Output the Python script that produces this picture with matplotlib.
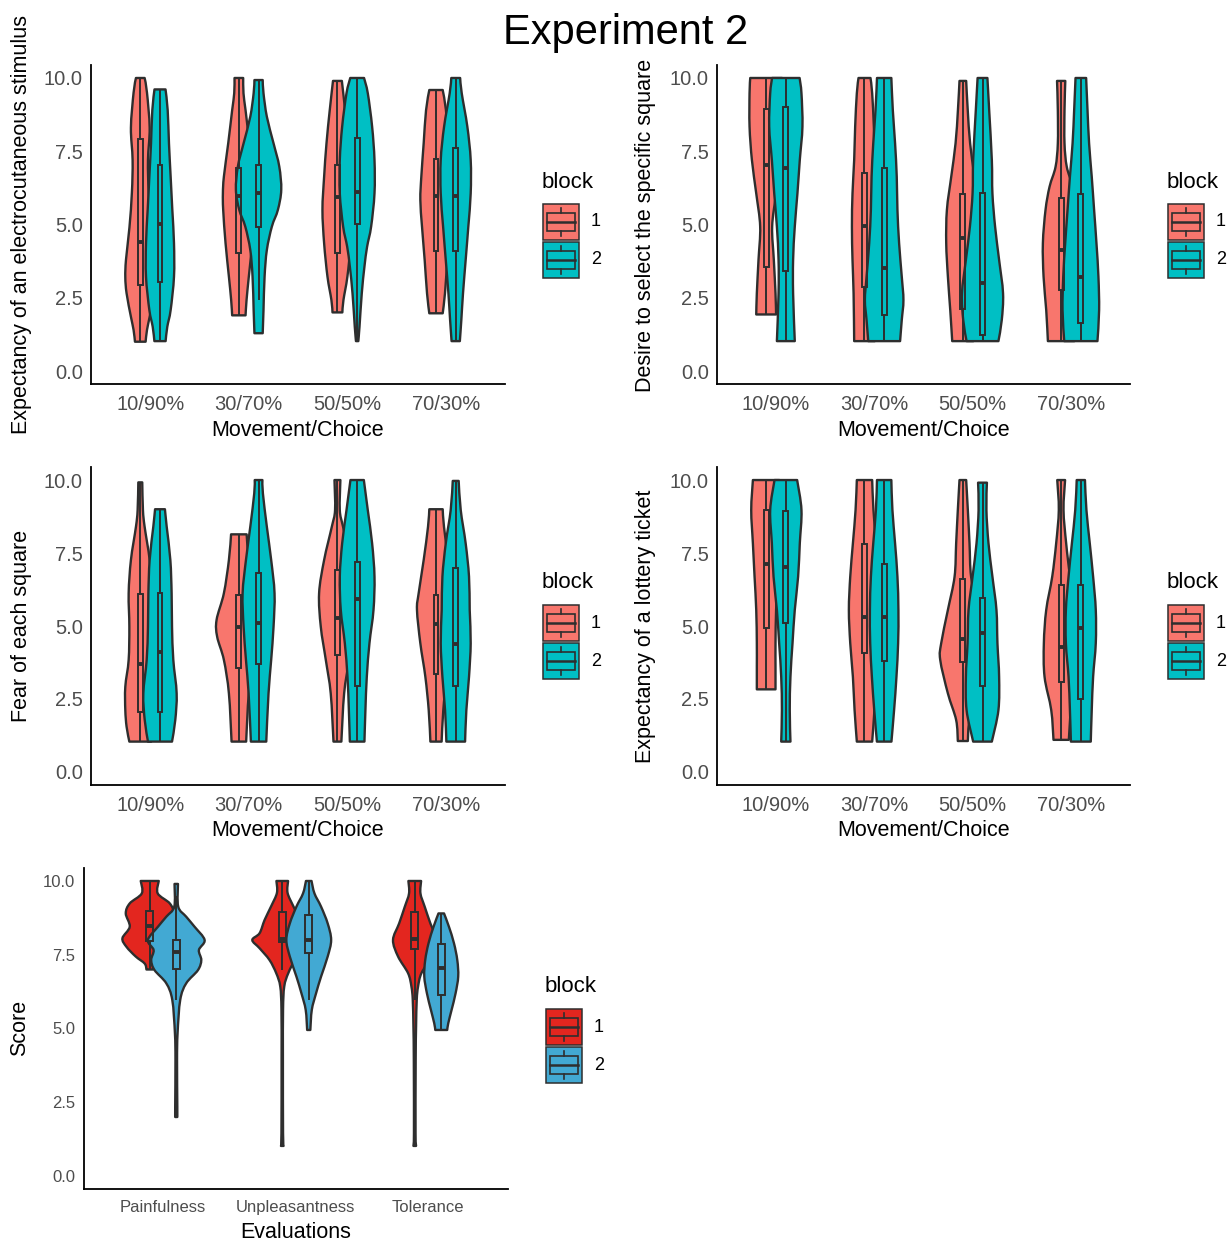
import matplotlib
matplotlib.use("Agg")
import matplotlib.pyplot as plt
from matplotlib.path import Path
from matplotlib.patches import PathPatch, Rectangle
from matplotlib.transforms import Affine2D

plt.rcParams["font.family"] = ["Liberation Sans", "DejaVu Sans"]

W, H = 1232, 1241

CONDITIONS = ["10/90%", "30/70%", "50/50%", "70/30%"]
EVALUATIONS = ["Painfulness", "Unpleasantness", "Tolerance"]
BLOCKS = ["1", "2"]

# violin outlines: (score, half width) from bottom to top, one list per condition
# boxes: (lower whisker, q1, median, q3, upper whisker)
ELEC_B1 = [
    [(1.0, .054), (1.4, .068), (1.85, .095), (2.65, .139), (3.2, .152), (3.8, .145), (4.9, .11),
     (6.1, .085), (7.2, .078), (8.3, .095), (9.5, .068), (10.0, .044)],
    [(1.9, .068), (2.42, .078), (3.22, .101), (4.36, .135), (5.5, .159), (6.06, .162), (6.63, .152),
     (7.77, .108), (8.9, .068), (9.48, .047), (10.0, .044)],
    [(2.0, .05), (2.42, .061), (3.22, .101), (4.36, .135), (5.5, .152), (6.63, .135), (7.77, .111),
     (8.9, .078), (9.9, .045)],
    [(1.97, .068), (2.65, .091), (3.79, .115), (4.93, .142), (5.84, .159), (6.63, .149), (7.77, .125),
     (8.9, .101), (9.59, .068)],
]
ELEC_B2 = [
    [(1.02, .057), (1.51, .074), (2.08, .108), (3.22, .142), (4.36, .142), (5.5, .125), (6.63, .108),
     (7.77, .091), (8.9, .078), (9.61, .056)],
    [(1.29, .042), (2.08, .05), (3.22, .061), (4.13, .084), (4.93, .135), (5.5, .196), (6.18, .23),
     (6.98, .21), (7.77, .152), (8.68, .084), (9.48, .05), (9.93, .042)],
    [(1.02, .012), (1.51, .024), (2.65, .047), (3.56, .074), (4.24, .101), (4.93, .142), (6.06, .176),
     (7.2, .176), (8.34, .152), (9.48, .108), (10.0, .07)],
    [(1.02, .042), (1.74, .057), (2.65, .074), (3.79, .101), (4.93, .128), (6.06, .152), (7.2, .152),
     (8.34, .118), (9.48, .061), (10.0, .045)],
]
ELEC_BOX_B1 = [(1.0, 2.94, 4.41, 7.92, 10.0), (1.9, 4.02, 5.98, 6.92, 10.0),
               (2.0, 4.02, 5.95, 7.03, 9.9), (1.97, 4.1, 5.97, 7.22, 9.59)]
ELEC_BOX_B2 = [(1.02, 3.05, 5.02, 7.03, 9.61), (2.42, 4.93, 6.09, 7.03, 9.93),
               (1.02, 5.0, 6.12, 7.94, 10.0), (1.02, 4.1, 5.98, 7.6, 10.0)]

DESIRE_B1 = [
    [(1.93, .101), (2.65, .095), (3.79, .078), (4.93, .061), (6.06, .101), (7.2, .145), (8.34, .169),
     (9.48, .169), (10.0, .162)],
    [(1.02, .105), (2.65, .111), (3.79, .122), (4.93, .128), (6.06, .122), (7.2, .105), (8.34, .095),
     (9.48, .078), (10.0, .061)],
    [(1.02, .108), (2.08, .128), (3.22, .152), (4.36, .169), (5.5, .162), (6.63, .118), (7.77, .074),
     (8.9, .05), (9.9, .034)],
    [(1.02, .135), (2.08, .152), (3.22, .179), (4.36, .186), (5.5, .159), (6.29, .118), (6.97, .057),
     (7.77, .034), (8.9, .034), (9.9, .042)],
]
DESIRE_B2 = [
    [(1.02, .091), (2.65, .074), (3.79, .074), (4.93, .091), (6.06, .118), (7.2, .142), (8.34, .169),
     (9.48, .159), (10.0, .14)],
    [(1.02, .162), (1.74, .179), (2.42, .196), (3.22, .179), (4.36, .152), (5.5, .135), (6.63, .128),
     (7.77, .111), (8.9, .088), (10.0, .073)],
    [(1.02, .162), (1.74, .196), (2.65, .209), (3.79, .169), (4.93, .128), (6.06, .101), (7.2, .095),
     (8.9, .068), (10.0, .05)],
    [(1.02, .169), (2.08, .186), (3.22, .179), (4.36, .159), (5.5, .135), (6.63, .111), (7.77, .084),
     (8.9, .068), (10.0, .054)],
]
DESIRE_BOX_B1 = [(1.93, 3.56, 7.03, 8.94, 10.0), (1.02, 2.88, 4.95, 6.77, 10.0),
                 (1.02, 2.1, 4.53, 6.04, 9.9), (1.02, 2.76, 4.13, 5.89, 9.9)]
DESIRE_BOX_B2 = [(1.02, 3.42, 6.94, 9.02, 10.0), (1.02, 1.91, 3.5, 6.92, 10.0),
                 (1.02, 1.23, 2.99, 6.06, 10.0), (1.02, 1.63, 3.22, 6.04, 10.0)]

FEAR_B1 = [
    [(1.04, .111), (1.55, .139), (2.12, .152), (2.92, .152), (3.84, .118), (4.98, .111), (6.12, .118),
     (7.26, .095), (8.4, .044), (8.97, .027), (9.92, .02)],
    [(1.04, .074), (2.69, .101), (3.84, .152), (4.63, .22), (5.21, .226), (6.12, .152), (7.26, .101),
     (8.14, .079)],
    [(1.04, .04), (2.69, .068), (3.84, .118), (4.98, .169), (6.12, .186), (7.26, .135), (8.4, .057),
     (8.97, .024), (10.0, .03)],
    [(1.04, .057), (2.12, .074), (3.26, .108), (4.41, .159), (5.55, .193), (6.12, .176), (7.26, .125),
     (8.4, .081), (9.0, .068)],
]
FEAR_B2 = [
    [(1.04, .122), (1.78, .155), (2.69, .169), (3.84, .135), (4.98, .122), (6.12, .118), (7.26, .105),
     (8.4, .068), (9.0, .05)],
    [(1.04, .078), (2.69, .101), (3.84, .128), (4.98, .152), (6.12, .162), (7.26, .128), (8.4, .084),
     (9.54, .044), (10.0, .039)],
    [(1.04, .074), (2.12, .084), (3.26, .098), (4.41, .125), (5.55, .166), (6.69, .176), (7.83, .152),
     (8.97, .108), (10.0, .068)],
    [(1.04, .095), (2.12, .108), (3.26, .135), (4.41, .152), (5.55, .142), (6.69, .135), (7.83, .101),
     (8.97, .051), (9.97, .03)],
]
FEAR_BOX_B1 = [(1.04, 2.07, 3.69, 6.1, 9.92), (1.04, 3.55, 4.98, 6.06, 8.14),
               (1.04, 4.0, 5.26, 6.92, 10.0), (1.04, 3.36, 5.06, 6.06, 9.0)]
FEAR_BOX_B2 = [(1.04, 2.04, 4.12, 6.12, 9.0), (1.04, 3.7, 5.11, 6.8, 10.0),
               (1.04, 2.95, 5.91, 7.2, 10.0), (1.04, 2.95, 4.37, 6.97, 9.97)]

LOTTERY_B1 = [
    [(2.83, .095), (3.61, .095), (4.41, .095), (5.55, .101), (6.69, .118), (7.83, .135), (8.97, .152),
     (10.0, .135)],
    [(1.04, .078), (2.12, .101), (3.26, .118), (4.41, .145), (5.55, .159), (6.69, .145), (7.83, .118),
     (8.97, .091), (10.0, .078)],
    [(1.06, .051), (1.78, .068), (2.69, .152), (3.84, .23), (4.41, .22), (5.55, .152), (6.69, .084),
     (7.83, .068), (8.97, .051), (10.0, .034)],
    [(1.1, .078), (2.12, .101), (3.26, .169), (4.41, .176), (5.55, .152), (6.69, .091), (7.83, .051),
     (8.97, .024), (10.0, .04)],
]
LOTTERY_B2 = [
    [(1.04, .047), (2.12, .04), (3.26, .047), (4.41, .068), (5.55, .091), (6.69, .125), (7.83, .142),
     (8.97, .159), (10.0, .115)],
    [(1.04, .074), (2.12, .101), (3.26, .125), (4.41, .142), (5.55, .145), (6.69, .135), (7.83, .111),
     (8.97, .084), (10.0, .073)],
    [(1.04, .095), (2.12, .162), (3.26, .169), (4.41, .152), (5.55, .142), (6.69, .101), (7.83, .061),
     (8.97, .04), (9.91, .045)],
    [(1.04, .101), (2.12, .111), (3.26, .125), (4.41, .152), (5.55, .152), (6.69, .125), (7.83, .091),
     (8.97, .057), (10.0, .042)],
]
LOTTERY_BOX_B1 = [(2.83, 4.94, 7.12, 8.97, 10.0), (1.04, 4.06, 5.32, 7.8, 10.0),
                  (1.06, 3.76, 4.54, 6.61, 10.0), (1.1, 3.09, 4.27, 6.4, 10.0)]
LOTTERY_BOX_B2 = [(1.04, 5.09, 7.01, 8.95, 10.0), (1.04, 3.81, 5.32, 7.11, 10.0),
                  (1.04, 2.95, 4.75, 5.95, 9.91), (1.04, 2.49, 4.94, 6.4, 10.0)]

EVAL_B1 = [
    [(7.0, .025), (7.2, .038), (7.44, .106), (7.77, .176), (8.06, .206), (8.45, .151), (8.9, .181),
     (9.24, .151), (9.58, .06), (10.0, .068)],
    [(1.02, .01), (1.45, .006), (3.93, .005), (5.63, .006), (6.42, .015), (6.87, .045), (7.32, .096),
     (7.72, .171), (8.0, .226), (8.23, .171), (8.68, .133), (9.15, .083), (9.6, .04), (10.0, .044)],
    [(1.02, .01), (1.45, .006), (3.93, .007), (5.06, .01), (5.97, .015), (6.42, .025), (6.87, .05),
     (7.44, .126), (8.0, .164), (8.56, .118), (9.13, .075), (9.58, .043), (10.0, .048)],
]
EVAL_B2 = [
    [(2.0, .008), (2.35, .008), (3.93, .006), (4.84, .01), (5.97, .03), (6.53, .075), (6.98, .164),
     (7.32, .189), (7.66, .171), (8.0, .214), (8.45, .138), (8.79, .075), (9.13, .015), (9.9, .013)],
    [(4.95, .012), (5.63, .023), (6.19, .055), (6.76, .093), (7.44, .143), (8.0, .169), (8.56, .143),
     (9.13, .093), (9.58, .043), (10.0, .021)],
    [(4.95, .045), (5.18, .053), (5.63, .078), (6.19, .108), (6.76, .128), (7.32, .121), (7.89, .096),
     (8.45, .058), (8.9, .021)],
]
EVAL_BOX_B1 = [(7.0, 7.97, 8.49, 8.98, 10.0), (6.98, 7.94, 8.03, 8.96, 10.0),
               (5.97, 7.68, 8.03, 8.96, 10.0)]
EVAL_BOX_B2 = [(5.97, 7.0, 7.6, 8.0, 9.5), (5.97, 7.57, 8.0, 8.85, 10.0),
               (4.95, 6.14, 7.04, 7.85, 8.9)]

RED, TEAL = "#F8766D", "#00BFC4"
RED2, BLUE2 = "#E3261F", "#42A9D3"
EDGE = "#2E2E2E"
DODGE = 0.1
BOX_W = 0.05

fig = plt.figure(figsize=(W / 100, H / 100), dpi=100)
px = Affine2D().scale(1 / W, -1 / H).translate(0, 1) + fig.transFigure


def catmull(pts):
    # cubic bezier pieces running through every outline point
    verts, codes = [], []
    n = len(pts)
    for i in range(n - 1):
        p0 = pts[i - 1] if i > 0 else pts[i]
        p1, p2 = pts[i], pts[i + 1]
        p3 = pts[i + 2] if i + 2 < n else pts[i + 1]
        c1 = (p1[0] + (p2[0] - p0[0]) / 6, p1[1] + (p2[1] - p0[1]) / 6)
        c2 = (p2[0] - (p3[0] - p1[0]) / 6, p2[1] - (p3[1] - p1[1]) / 6)
        verts += [c1, c2, p2]
        codes += [Path.CURVE4] * 3
    return verts, codes


def violin(ax, xc, prof, color, z):
    right = [(xc + w, y) for y, w in prof]
    left = [(xc - w, y) for y, w in prof[::-1]]
    verts = [left[-1], right[0]]
    codes = [Path.MOVETO, Path.LINETO]
    v, c = catmull(right)
    verts += v
    codes += c
    verts.append(left[0])
    codes.append(Path.LINETO)
    v, c = catmull(left)
    verts += v
    codes += c
    verts.append(left[-1])
    codes.append(Path.CLOSEPOLY)
    ax.add_patch(PathPatch(Path(verts, codes), fc=color, ec=EDGE, lw=1.7, zorder=z,
                           joinstyle="round"))


def boxplot(ax, xc, stats):
    lo, q1, med, q3, hi = stats
    ax.plot([xc, xc], [lo, q1], color=EDGE, lw=1.4, zorder=10, solid_capstyle="butt")
    ax.plot([xc, xc], [q3, hi], color=EDGE, lw=1.4, zorder=10, solid_capstyle="butt")
    ax.add_patch(Rectangle((xc - BOX_W / 2, q1), BOX_W, q3 - q1, fill=False, ec=EDGE,
                           lw=1.4, zorder=10))
    ax.plot([xc - BOX_W / 2, xc + BOX_W / 2], [med, med], color=EDGE, lw=2.8, zorder=11,
            solid_capstyle="butt")


def panel(rect, labels, b1, b2, box1, box2, colors, tick_size):
    ax = fig.add_axes(rect)
    z = 1
    for i in range(len(labels)):
        violin(ax, i + 1 - DODGE, b1[i], colors[0], z)
        violin(ax, i + 1 + DODGE, b2[i], colors[1], z + 1)
        z += 2
    for i in range(len(labels)):
        boxplot(ax, i + 1 - DODGE, box1[i])
        boxplot(ax, i + 1 + DODGE, box2[i])
    ax.set_xlim(0.4, len(labels) + 0.6)
    ax.set_ylim(-0.45, 10.45)
    ax.set_xticks(range(1, len(labels) + 1))
    ax.set_xticklabels(labels)
    ax.set_yticks([0, 2.5, 5, 7.5, 10])
    ax.set_yticklabels(["0.0", "2.5", "5.0", "7.5", "10.0"])
    ax.tick_params(length=0, labelsize=tick_size, labelcolor="#4D4D4D")
    ax.tick_params(axis="x", pad=8)
    ax.tick_params(axis="y", pad=6)
    for s in ("top", "right"):
        ax.spines[s].set_visible(False)
    for s in ("left", "bottom"):
        ax.spines[s].set_linewidth(1.3)
    return ax


def text_px(x, y, s, **kw):
    fig.text(x, y, s, transform=px, ha="center", va="center", **kw)


def legend(x, y, colors):
    fig.text(x, y, "block", transform=px, ha="left", va="center", fontsize=16)
    for k, (lab, col) in enumerate(zip(BLOCKS, colors)):
        top = y + 22 + 38 * k
        fig.add_artist(Rectangle((x + 1, top), 36, 36, transform=px, fc=col, ec=EDGE, lw=1.1))
        cx = x + 19
        fig.add_artist(Rectangle((x + 4.6, top + 9), 28.8, 18, transform=px, fill=False,
                                 ec=EDGE, lw=1.2))
        fig.add_artist(plt.Line2D([x + 4.6, x + 33.4], [top + 18, top + 18], transform=px,
                                  color=EDGE, lw=1.8))
        fig.add_artist(plt.Line2D([cx, cx], [top + 3.6, top + 9], transform=px, color=EDGE, lw=1.2))
        fig.add_artist(plt.Line2D([cx, cx], [top + 27, top + 32.4], transform=px, color=EDGE,
                                  lw=1.2))
        fig.text(x + 54, top + 18, lab, transform=px, ha="center", va="center", fontsize=13)


def rect_px(x0, x1, y0, y1):
    return [x0 / W, 1 - y1 / H, (x1 - x0) / W, (y1 - y0) / H]


pairs = [RED, TEAL]
panel(rect_px(91, 505, 64.8, 384.2), CONDITIONS, ELEC_B1, ELEC_B2, ELEC_BOX_B1, ELEC_BOX_B2,
      pairs, 14.5)
panel(rect_px(717, 1130, 64.8, 384.2), CONDITIONS, DESIRE_B1, DESIRE_B2, DESIRE_BOX_B1,
      DESIRE_BOX_B2, pairs, 14.5)
panel(rect_px(91, 505, 466.9, 785.1), CONDITIONS, FEAR_B1, FEAR_B2, FEAR_BOX_B1, FEAR_BOX_B2,
      pairs, 14.5)
panel(rect_px(717, 1130, 466.9, 785.1), CONDITIONS, LOTTERY_B1, LOTTERY_B2, LOTTERY_BOX_B1,
      LOTTERY_BOX_B2, pairs, 14.5)
panel(rect_px(83.5, 507.5, 867.7, 1189.3), EVALUATIONS, EVAL_B1, EVAL_B2, EVAL_BOX_B1,
      EVAL_BOX_B2, [RED2, BLUE2], 12)

text_px(626, 33, "Experiment 2", fontsize=30)
text_px(298, 430, "Movement/Choice", fontsize=15.5)
text_px(924, 430, "Movement/Choice", fontsize=15.5)
text_px(298, 831, "Movement/Choice", fontsize=15.5)
text_px(924, 831, "Movement/Choice", fontsize=15.5)
text_px(296, 1232, "Evaluations", fontsize=15.5)
text_px(22, 225, "Expectancy of an electrocutaneous stimulus", fontsize=15.5, rotation=90)
text_px(646, 225, "Desire to select the specific square", fontsize=15.5, rotation=90)
text_px(22, 626, "Fear of each square", fontsize=15.5, rotation=90)
text_px(646, 626, "Expectancy of a lottery ticket", fontsize=15.5, rotation=90)
text_px(20, 1028, "Score", fontsize=15.5, rotation=90)

legend(542, 182, pairs)
legend(1167, 182, pairs)
legend(542, 583, pairs)
legend(1167, 583, pairs)
legend(545, 987, [RED2, BLUE2])

fig.savefig("out.png", dpi=100)
